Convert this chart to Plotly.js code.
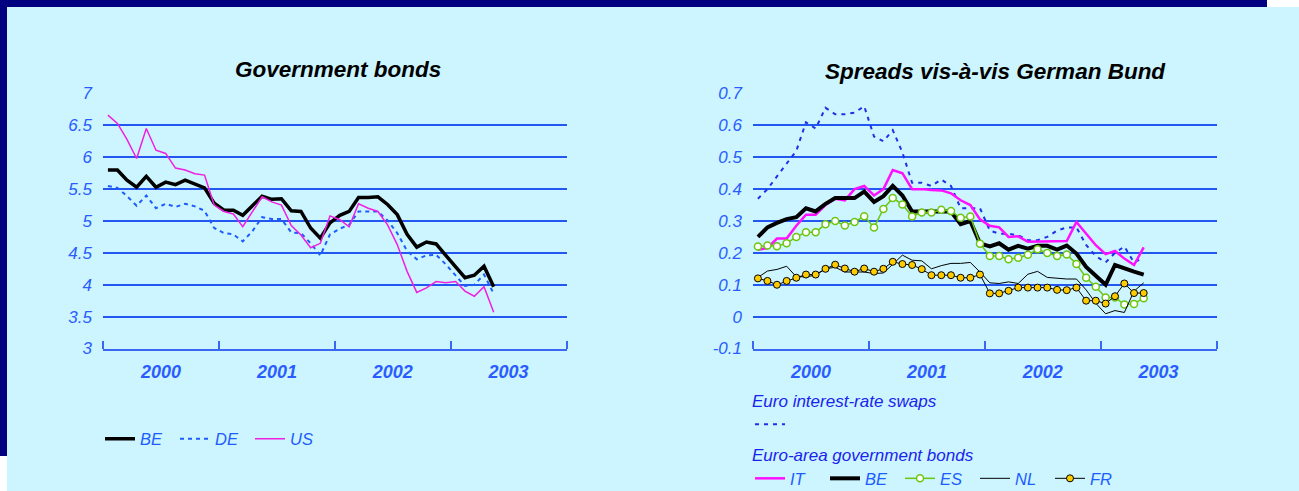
<!DOCTYPE html>
<html>
<head>
<meta charset="utf-8">
<script src="https://cdn.plot.ly/plotly-3.0.1.min.js"></script>
<style>
  html, body { margin: 0; padding: 0; background: #ffffff; }
  #wrap { position: relative; width: 1299px; height: 491px; background: #ccf5ff; overflow: hidden; }
  .blk { position: absolute; }
  #chart { position: absolute; left: 0; top: 0; width: 1299px; height: 491px; }
</style>
</head>
<body>
<div id="wrap">
  <div class="blk" style="left:0;top:0;width:1267px;height:7px;background:#000080;"></div>
  <div class="blk" style="left:1267px;top:0;width:32px;height:7px;background:#ffffff;"></div>
  <div class="blk" style="left:0;top:0;width:7px;height:456px;background:#000080;"></div>
  <div class="blk" style="left:0;top:456px;width:7px;height:35px;background:#ffffff;"></div>
  <div id="chart"></div>
</div>
<script>
// ---------- categories (monthly, Jan 2000 - May 2003) ----------
const months = [
  '2000-01','2000-02','2000-03','2000-04','2000-05','2000-06','2000-07','2000-08','2000-09','2000-10','2000-11','2000-12',
  '2001-01','2001-02','2001-03','2001-04','2001-05','2001-06','2001-07','2001-08','2001-09','2001-10','2001-11','2001-12',
  '2002-01','2002-02','2002-03','2002-04','2002-05','2002-06','2002-07','2002-08','2002-09','2002-10','2002-11','2002-12',
  '2003-01','2003-02','2003-03','2003-04','2003-05'
];

// ---------- left panel: Government bonds (%) ----------
const govBE = [5.80,5.80,5.64,5.53,5.70,5.53,5.61,5.57,5.64,5.58,5.52,5.28,
               5.17,5.17,5.09,5.24,5.39,5.34,5.35,5.16,5.15,4.89,4.73,4.97,
               5.09,5.15,5.37,5.37,5.38,5.26,5.10,4.79,4.59,4.67,4.64,4.46,
               4.28,4.11,4.15,4.29,3.97];
const govDE = [5.55,5.52,5.39,5.24,5.40,5.20,5.27,5.22,5.27,5.23,5.16,4.89,
               4.81,4.79,4.68,4.84,5.06,5.03,5.03,4.82,4.81,4.65,4.46,4.79,
               4.88,4.94,5.15,5.15,5.15,5.01,4.81,4.53,4.40,4.46,4.47,4.32,
               4.14,3.98,4.00,4.16,3.86];
const govUS = [6.66,6.53,6.28,5.98,6.45,6.11,6.06,5.83,5.80,5.74,5.72,5.25,
               5.15,5.11,4.91,5.14,5.38,5.30,5.25,4.93,4.78,4.58,4.65,5.08,
               5.02,4.91,5.27,5.20,5.15,4.94,4.63,4.21,3.88,3.95,4.05,4.03,
               4.05,3.90,3.82,3.97,3.57];

// ---------- right panel: spreads vis-a-vis German Bund ----------
const sprSwaps = [0.37,0.40,0.44,0.48,0.52,0.61,0.59,0.655,0.635,0.635,0.64,0.66,
                  0.565,0.55,0.585,0.515,0.42,0.42,0.41,0.43,0.41,0.34,0.34,0.34,
                  0.27,0.26,0.26,0.255,0.24,0.24,0.25,0.27,0.28,0.28,0.225,0.19,
                  0.17,0.20,0.22,0.17,0.185];
const sprIT = [0.21,0.215,0.245,0.245,0.285,0.32,0.32,0.35,0.37,0.365,0.40,0.41,
               0.38,0.40,0.46,0.45,0.40,0.40,0.397,0.396,0.387,0.365,0.35,0.305,
               0.285,0.28,0.25,0.252,0.235,0.235,0.237,0.237,0.237,0.297,0.26,0.224,
               0.196,0.206,0.182,0.162,0.217];
const sprBE = [0.25,0.28,0.294,0.306,0.312,0.34,0.33,0.354,0.372,0.372,0.372,0.392,
               0.36,0.378,0.41,0.38,0.33,0.33,0.33,0.33,0.33,0.29,0.30,0.23,
               0.22,0.23,0.21,0.222,0.213,0.222,0.222,0.21,0.223,0.198,0.156,0.128,
               0.10,0.162,0.151,0.141,0.132];
const sprES = [0.22,0.223,0.221,0.23,0.25,0.265,0.265,0.29,0.30,0.286,0.297,0.315,
               0.28,0.338,0.372,0.352,0.314,0.327,0.327,0.335,0.331,0.31,0.314,0.229,
               0.19,0.19,0.18,0.185,0.194,0.211,0.20,0.19,0.195,0.165,0.122,0.094,
               0.06,0.06,0.038,0.04,0.058];
const sprNL = [0.123,0.143,0.148,0.158,0.125,0.125,0.13,0.15,0.155,0.14,0.14,0.14,
               0.135,0.137,0.164,0.193,0.177,0.175,0.15,0.16,0.167,0.167,0.17,0.14,
               0.106,0.104,0.109,0.104,0.133,0.142,0.123,0.12,0.118,0.118,0.084,0.042,
               0.009,0.019,0.013,0.08,0.106];
const sprFR = [0.12,0.112,0.10,0.112,0.122,0.132,0.132,0.15,0.163,0.151,0.141,0.151,
               0.141,0.15,0.172,0.165,0.162,0.149,0.13,0.13,0.13,0.122,0.122,0.132,
               0.073,0.073,0.081,0.091,0.091,0.091,0.091,0.084,0.083,0.091,0.05,0.05,
               0.041,0.064,0.104,0.074,0.074];

// ---------- tick labels ----------
const leftTickVals = [3,3.5,4,4.5,5,5.5,6,6.5,7];
const leftTickText = ['3','3.5','4','4.5','5','5.5','6','6.5','7'];
const rightTickVals = [-0.1,0,0.1,0.2,0.3,0.4,0.5,0.6,0.7];
const rightTickText = ['-0.1','0','0.1','0.2','0.3','0.4','0.5','0.6','0.7'];

const titleLeft = 'Government bonds';
const titleRight = 'Spreads vis-à-vis German Bund';
const swapsTitle = 'Euro interest-rate swaps';
const bondsTitle = 'Euro-area government bonds';

// ---------- styling ----------
const FONT = 'Liberation Sans, Arial, Helvetica, sans-serif';
const W = 1299, H = 491;
const px = v => v / W;
const py = v => 1 - v / H;
const GRID = '#2456f2';
const AXIS = '#3a68f2';
const TICKC = '#2a5cff';

function series(y, name, xa, ya, line, legend, extra) {
  return Object.assign({
    type: 'scatter', mode: 'lines', x: months, y: y, name: name,
    xperiod: 'M1', xperiodalignment: 'middle',
    xaxis: xa, yaxis: ya, line: line, legend: legend, hoverinfo: 'skip'
  }, extra || {});
}

const traces = [
  series(govBE, 'BE', 'x', 'y', {color: '#000000', width: 3.5}, 'legend'),
  series(govDE, 'DE', 'x', 'y', {color: '#1f5cff', width: 2, dash: '4px,4px'}, 'legend'),
  series(govUS, 'US', 'x', 'y', {color: '#f020e0', width: 1.5}, 'legend'),

  series(sprSwaps, ' ', 'x2', 'y2', {color: '#2030e8', width: 2, dash: '4px,5px'}, 'legend2'),
  series(sprIT, 'IT', 'x2', 'y2', {color: '#ff10ff', width: 2.5}, 'legend3'),
  series(sprBE, 'BE', 'x2', 'y2', {color: '#000000', width: 4}, 'legend3'),
  series(sprES, 'ES', 'x2', 'y2', {color: '#6cc610', width: 1.5}, 'legend3',
         {mode: 'lines+markers', marker: {symbol: 'circle', size: 7, color: '#ffffff', line: {color: '#6cc610', width: 1.5}}}),
  series(sprNL, 'NL', 'x2', 'y2', {color: '#000000', width: 1}, 'legend3'),
  series(sprFR, 'FR', 'x2', 'y2', {color: '#000000', width: 1}, 'legend3',
         {mode: 'lines+markers', marker: {symbol: 'circle', size: 7, color: '#ffcc00', line: {color: '#000000', width: 1}}})
];

function xAxis(domain, anchor) {
  return {
    domain: domain, anchor: anchor, type: 'date',
    range: ['2000-01-01', '2004-01-01'],
    tickmode: 'linear', tick0: '2000-01-01', dtick: 'M12',
    tickformat: '%Y', ticklabelmode: 'period',
    ticks: 'inside', ticklen: 8, tickwidth: 2, tickcolor: AXIS,
    showline: true, linecolor: AXIS, linewidth: 2,
    showgrid: false, zeroline: false,
    ticklabelstandoff: 6,
    automargin: false,
    tickfont: {family: FONT, size: 18, color: TICKC, weight: 'bold', style: 'italic'},
    fixedrange: true
  };
}
function yAxis(domain, anchor, range, vals, text) {
  return {
    domain: domain, anchor: anchor, range: range,
    tickmode: 'array', tickvals: vals, ticktext: text,
    showgrid: true, gridcolor: GRID, gridwidth: 2,
    zeroline: false, showline: false, ticks: '',
    ticklabelstandoff: 10,
    automargin: false,
    tickfont: {family: FONT, size: 17, color: TICKC, style: 'italic'},
    fixedrange: true
  };
}

const yDom = [py(348.5), py(93.5)];
const legFont = {family: FONT, size: 16.5, color: '#1f5cff', style: 'italic'};
const legTitleFont = {family: FONT, size: 17, color: '#1a22ee', style: 'italic'};

const layout = {
  width: W, height: H,
  margin: {l: 0, r: 0, t: 0, b: 0, pad: 0, autoexpand: false},
  paper_bgcolor: 'rgba(0,0,0,0)', plot_bgcolor: 'rgba(0,0,0,0)',
  font: {family: FONT},
  showlegend: true,
  xaxis: xAxis([px(103), px(566.5)], 'y'),
  yaxis: yAxis(yDom, 'x', [3, 7], leftTickVals, leftTickText),
  xaxis2: xAxis([px(753), px(1216.5)], 'y2'),
  yaxis2: yAxis(yDom, 'x2', [-0.1, 0.7], rightTickVals, rightTickText),
  legend: {
    orientation: 'h', x: px(100), xanchor: 'left', y: py(439), yanchor: 'middle',
    font: legFont, bgcolor: 'rgba(0,0,0,0)', entrywidth: 30, traceorder: 'normal'
  },
  legend2: {
    orientation: 'v', x: px(750), xanchor: 'left', y: py(385), yanchor: 'top',
    font: legFont, bgcolor: 'rgba(0,0,0,0)',
    title: {text: swapsTitle, side: 'top', font: legTitleFont}
  },
  legend3: {
    orientation: 'h', x: px(750), xanchor: 'left', y: py(439), yanchor: 'top',
    font: legFont, bgcolor: 'rgba(0,0,0,0)', entrywidth: 30, traceorder: 'normal',
    title: {text: bondsTitle, side: 'top', font: legTitleFont}
  },
  annotations: [
    {text: titleLeft, xref: 'paper', yref: 'paper', x: px(338), y: py(69),
     xanchor: 'center', yanchor: 'middle', showarrow: false,
     font: {family: FONT, size: 22.5, color: '#000000', weight: 'bold', style: 'italic'}},
    {text: titleRight, xref: 'paper', yref: 'paper', x: px(995), y: py(71.5),
     xanchor: 'center', yanchor: 'middle', showarrow: false,
     font: {family: FONT, size: 22.5, color: '#000000', weight: 'bold', style: 'italic'}}
  ]
};

Plotly.newPlot('chart', traces, layout, {staticPlot: true, displayModeBar: false});
</script>
</body>
</html>
